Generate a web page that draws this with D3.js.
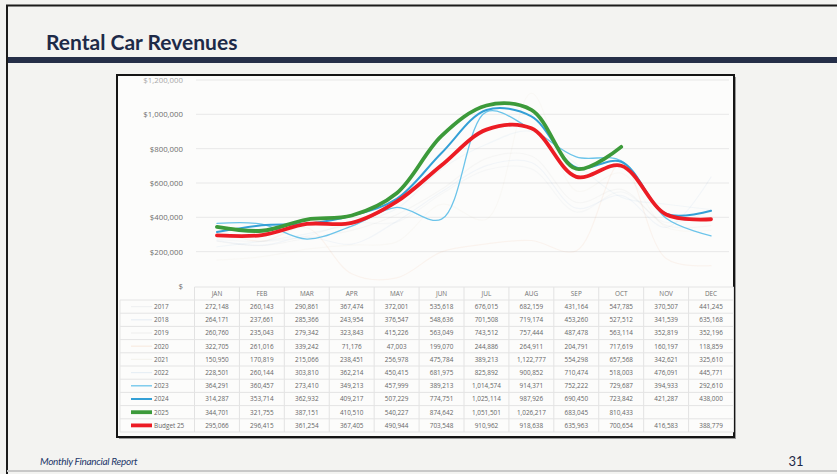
<!DOCTYPE html>
<html><head><meta charset="utf-8">
<script src="https://cdn.jsdelivr.net/npm/d3@7"></script>
<style>html,body{margin:0;padding:0;background:#f3f3f1;} svg{display:block}</style>
</head><body>
<svg id="chart" width="837" height="474"></svg>
<script>
// ---------- data ----------
const months = ["JAN","FEB","MAR","APR","MAY","JUN","JUL","AUG","SEP","OCT","NOV","DEC"];
const seriesNames = ["2017","2018","2019","2020","2021","2022","2023","2024","2025","Budget 25"];
const v2017 = [272148,260143,290861,367474,372001,535618,676015,682159,431164,547785,370507,441245];
const v2018 = [264171,237661,285366,243954,376547,548636,701508,719174,453260,527512,341539,635168];
const v2019 = [260760,235043,279342,323843,415226,563049,743512,757444,487478,563114,352819,352196];
const v2020 = [322705,261016,339242,71176,47003,199070,244886,264911,204791,717619,160197,118859];
const v2021 = [150950,170819,215066,238451,256978,475784,389213,1122777,554298,657568,342621,325610];
const v2022 = [228501,260144,303810,362214,450415,681975,825892,900852,710474,518003,476091,445771];
const v2023 = [364291,360457,273410,349213,457999,389213,1014574,914371,752222,729687,394933,292610];
const v2024 = [314287,353714,362932,409217,507229,774751,1025114,987926,690450,723842,421287,438000];
const v2025 = [344701,321755,387151,410510,540227,874642,1051501,1026217,683045,810433,null,null];
const vBudget25 = [295066,296415,361254,367405,490944,703548,910962,918638,635963,700654,416583,388779];
const yTicks = [0,200000,400000,600000,800000,1000000,1200000];
const titleText = "Rental Car Revenues";
const footerText = "Monthly Financial Report";
const pageNumber = "31";

const seriesValues = [v2017,v2018,v2019,v2020,v2021,v2022,v2023,v2024,v2025,vBudget25];

// ---------- styles ----------
const styles = {
  "2017": {color:"#9aa6b8", width:1.2, opacity:0.06},
  "2018": {color:"#6f9fd0", width:1.2, opacity:0.07},
  "2019": {color:"#a0a0a0", width:1.2, opacity:0.06},
  "2020": {color:"#e8a070", width:1.2, opacity:0.09},
  "2021": {color:"#c8c0a0", width:1.2, opacity:0.06},
  "2022": {color:"#7ab0dc", width:1.2, opacity:0.08},
  "2023": {color:"#6cc4ea", width:1.3, opacity:1},
  "2024": {color:"#34a0d6", width:2.0, opacity:1},
  "2025": {color:"#3c9a3a", width:3.8, opacity:1},
  "Budget 25": {color:"#ec1c24", width:3.8, opacity:1}
};

const svg = d3.select("#chart");
const W = 837, H = 474;

// page background and frame
svg.append("rect").attr("x",0).attr("y",0).attr("width",W).attr("height",H).attr("fill","#f3f3f1");
svg.append("line").attr("x1",6).attr("x2",W).attr("y1",5.5).attr("y2",5.5).attr("stroke","#1b1b1b").attr("stroke-width",2.2);
svg.append("line").attr("x1",7).attr("x2",7).attr("y1",5).attr("y2",H).attr("stroke","#1b1b1b").attr("stroke-width",2);
svg.append("line").attr("x1",7).attr("x2",W).attr("y1",471).attr("y2",471).attr("stroke","#c8c8c8").attr("stroke-width",2);

// title
svg.append("text").attr("x",46).attr("y",50).text(titleText)
  .attr("font-family","Lato, 'Open Sans', sans-serif").attr("font-weight","bold")
  .attr("font-size",21).attr("fill","#1d2a48");
// navy band
svg.append("rect").attr("x",8).attr("y",57).attr("width",W-8).attr("height",6).attr("fill","#252e48");

// chart box
const box = {x:117, y:75, w:617, h:362};
svg.append("rect").attr("x",box.x+2).attr("y",box.y+2).attr("width",box.w).attr("height",box.h).attr("fill","#9a9a9a");
svg.append("rect").attr("x",box.x).attr("y",box.y).attr("width",box.w).attr("height",box.h)
  .attr("fill","#fcfcfb").attr("stroke","#151515").attr("stroke-width",2);

// scales
const x = d3.scaleBand().domain(months).range([194.5, 733.5]).padding(0);
const xc = m => x(m) + x.bandwidth()/2;
const y = d3.scaleLinear().domain([0,1200000]).range([286, 80]);

// gridlines
const g = svg.append("g");
g.selectAll("line.grid").data(yTicks.slice(1)).join("line")
  .attr("x1",196).attr("x2",729).attr("y1",d=>y(d)).attr("y2",d=>y(d))
  .attr("stroke","#e8e8e8").attr("stroke-width",1);

// y axis
const yAxis = d3.axisLeft(y).tickValues(yTicks).tickSize(0).tickPadding(0)
  .tickFormat(d => d === 0 ? "$" : "$" + d3.format(",")(d));
const ya = svg.append("g").attr("transform","translate(183,0)").call(yAxis);
ya.select(".domain").remove();
ya.selectAll("text").attr("font-family","'Open Sans', sans-serif").attr("font-size",7.8)
  .attr("fill",d => d===1200000 ? "#a8a8a8" : "#6e6e6e");

// lines
const line = d3.line().defined(d => d.v != null).x(d => xc(d.m)).y(d => y(d.v))
  .curve(d3.curveCatmullRom.alpha(0.5));
seriesNames.forEach((name,i) => {
  const data = months.map((m,j) => ({m, v: seriesValues[i][j]}));
  const st = styles[name];
  svg.append("path").datum(data).attr("d", line).attr("fill","none")
    .attr("stroke", st.color).attr("stroke-width", st.width).attr("stroke-opacity", st.opacity)
    .attr("stroke-linejoin","round").attr("stroke-linecap","round");
});

// data table
const tTop = 287, headerH = 13, rowH = 13.2;
const tBottom = tTop + headerH + rowH*seriesNames.length;
const tg = svg.append("g");
tg.selectAll("line.vcol").data(months).join("line")
  .attr("x1",d=>x(d)).attr("x2",d=>x(d)).attr("y1",tTop).attr("y2",tBottom)
  .attr("stroke","#e2e2e2").attr("stroke-width",1);
tg.append("line").attr("x1",733.5).attr("x2",733.5).attr("y1",tTop).attr("y2",tBottom).attr("stroke","#e2e2e2");
const rowLines = d3.range(seriesNames.length+1).map(i => tTop + headerH + i*rowH);
tg.selectAll("line.hrow").data(rowLines).join("line")
  .attr("x1",120).attr("x2",733.5).attr("y1",d=>d).attr("y2",d=>d)
  .attr("stroke","#e4e4e4").attr("stroke-width",1);
tg.append("line").attr("x1",194.5).attr("x2",733.5).attr("y1",tTop).attr("y2",tTop).attr("stroke","#e4e4e4");
tg.append("line").attr("x1",120).attr("x2",120).attr("y1",tTop+headerH).attr("y2",tBottom).attr("stroke","#e4e4e4");

tg.selectAll("text.mon").data(months).join("text")
  .attr("x", d => xc(d)).attr("y", tTop + headerH/2 + 2.3).attr("text-anchor","middle")
  .attr("font-family","'Open Sans', sans-serif").attr("font-size",6.4).attr("fill","#707070")
  .text(d => d);

const fmt = d3.format(",");
seriesNames.forEach((name,i) => {
  const cy = tTop + headerH + rowH*i + rowH/2;
  const st = styles[name];
  const swOp = st.opacity < 1 ? st.opacity*2 : 1;
  tg.append("line").attr("x1",131).attr("x2",152).attr("y1",cy).attr("y2",cy)
    .attr("stroke",st.color).attr("stroke-width",st.width).attr("stroke-opacity",swOp);
  tg.append("text").attr("x",154).attr("y",cy+2.3)
    .attr("font-family","'Open Sans', sans-serif").attr("font-size",6.4).attr("fill","#666")
    .text(name);
  tg.selectAll(null).data(months.map((m,j)=>({m, v: seriesValues[i][j]})).filter(d=>d.v!=null))
    .join("text").attr("x",d=>xc(d.m)).attr("y",cy+2.3).attr("text-anchor","middle")
    .attr("font-family","'Open Sans', sans-serif").attr("font-size",6.4).attr("fill","#666")
    .text(d=>fmt(d.v));
});

// footer
svg.append("text").attr("x",40).attr("y",465).text(footerText)
  .attr("font-family","Lato, sans-serif").attr("font-style","italic")
  .attr("font-size",10).attr("fill","#24386a").attr("letter-spacing",-0.3);
svg.append("text").attr("x",796).attr("y",466).text(pageNumber)
  .attr("font-family","Lato, sans-serif").attr("font-size",13).attr("fill","#1d2a48").attr("text-anchor","middle");
</script>
</body></html>
